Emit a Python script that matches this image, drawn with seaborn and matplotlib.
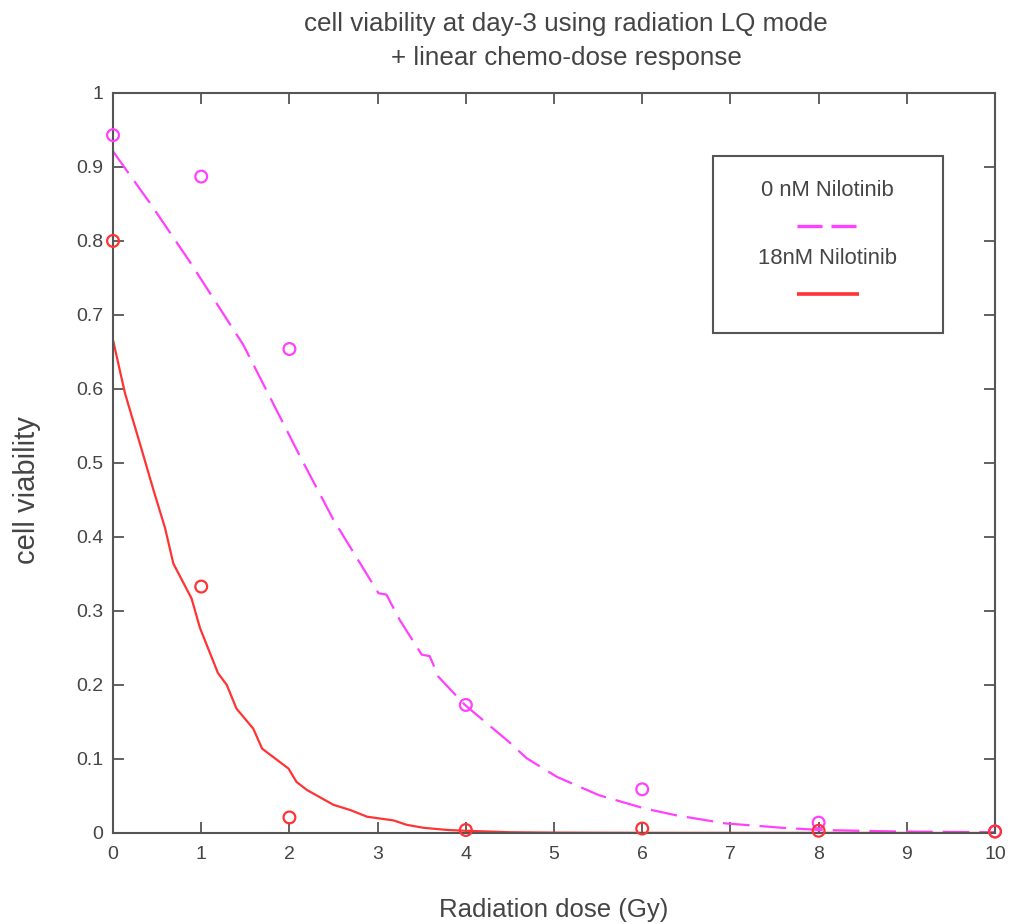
import numpy as np
import pandas as pd
import seaborn as sns
import matplotlib
matplotlib.use("Agg")
import matplotlib.pyplot as plt
from matplotlib.patches import Rectangle

# ---- data ----
dose_points = [0, 1, 2, 4, 6, 8, 10]
obs_0nM = [0.943, 0.887, 0.654, 0.173, 0.059, 0.014, 0.002]
obs_18nM = [0.800, 0.333, 0.021, 0.004, 0.006, 0.003, 0.002]

fit_0nM_x = [0, 0.42, 0.87, 1.48, 2.12, 2.50, 3.01, 3.10, 3.25, 3.50, 3.59, 3.69,
             3.99, 4.49, 4.69, 5.03, 5.51, 6.03, 6.38, 6.94, 7.59, 8.03, 8.9, 10]
fit_0nM_y = [0.921, 0.851, 0.772, 0.659, 0.509, 0.423, 0.324, 0.322, 0.288, 0.241,
             0.239, 0.211, 0.173, 0.123, 0.101, 0.076, 0.051, 0.033, 0.024, 0.013,
             0.007, 0.004, 0.002, 0.001]

fit_18nM_x = [0, 0.136, 0.325, 0.457, 0.59, 0.684, 0.89, 0.986, 1.19, 1.29, 1.40,
              1.59, 1.69, 1.99, 2.08, 2.20, 2.50, 2.69, 2.88, 3.18, 3.33, 3.52,
              3.80, 4.0, 4.5, 5.0, 6.0, 8.0, 10.0]
fit_18nM_y = [0.666, 0.594, 0.518, 0.464, 0.412, 0.364, 0.317, 0.277, 0.216, 0.200,
              0.168, 0.141, 0.114, 0.087, 0.069, 0.058, 0.038, 0.031, 0.022, 0.017,
              0.011, 0.007, 0.004, 0.003, 0.001, 0.0005, 0.0002, 0.0001, 0.0]

labels = ["0 nM Nilotinib", "18nM Nilotinib"]
title = "cell viability at day-3 using radiation LQ mode\n+ linear chemo-dose response"
xlabel = "Radiation dose (Gy)"
ylabel = "cell viability"

MAG = "#ff40ff"
RED = "#ff3333"
TXT = "#444444"

sns.set_style("white")
plt.rcParams['font.family'] = ['Liberation Sans', 'DejaVu Sans']

fig = plt.figure(figsize=(10.11, 9.24), dpi=100)
ax = fig.add_axes([0.1118, 0.0985, 0.8724, 0.8009])

sns.lineplot(x=fit_0nM_x, y=fit_0nM_y, color=MAG, lw=1.6, ax=ax, sort=False)
sns.lineplot(x=fit_18nM_x, y=fit_18nM_y, color=RED, lw=1.6, ax=ax, sort=False)
ax.lines[0].set_dashes([12, 4.5])

sns.scatterplot(x=dose_points, y=obs_0nM, ax=ax, marker='o', s=72,
                facecolor='none', edgecolor=MAG, linewidth=1.6, zorder=3, clip_on=False)
sns.scatterplot(x=dose_points, y=obs_18nM, ax=ax, marker='o', s=72,
                facecolor='none', edgecolor=RED, linewidth=1.6, zorder=3, clip_on=False)

ax.set_xlim(0, 10)
ax.set_ylim(0, 1)
ax.set_xticks(range(0, 11))
ax.set_yticks(np.round(np.arange(0, 1.01, 0.1), 1))
ax.set_yticklabels(["0"] + [f"{v:.1f}" for v in np.arange(0.1, 0.95, 0.1)] + ["1"])

for s in ax.spines.values():
    s.set_visible(True)
    s.set_color("#555555")
    s.set_linewidth(1.5)
ax.tick_params(direction='in', length=8, width=1.3, color="#555555",
               top=True, right=True, bottom=True, left=True,
               labelsize=14, labelcolor=TXT)
ax.tick_params(axis='x', pad=9.4)
ax.tick_params(axis='y', pad=7.2)

ax.set_title(title, fontsize=18.7, color=TXT, linespacing=1.5, y=1.0378, pad=0)
ax.title.set_x(0.5136)

ax.set_xlabel(xlabel, fontsize=18.5, color=TXT)
ax.xaxis.set_label_coords(0.5, -0.1135)
ax.xaxis.label.set_va('baseline')

ax.set_ylabel(ylabel, fontsize=21, color=TXT)
ax.yaxis.set_label_coords(-0.0975, 0.4635)
ax.yaxis.label.set_va('center')

# legend box (text above line sample, as in the reference)
tr = ax.transAxes
ax.add_patch(Rectangle((0.680, 0.676), 0.2605, 0.239, transform=tr, fill=False,
                       edgecolor="#555555", linewidth=1.5, zorder=5))
ax.text(0.8103, 0.8676, labels[0], transform=tr, ha='center', va='center',
        fontsize=15.8, color=TXT, zorder=6)
ax.text(0.8103, 0.7757, labels[1], transform=tr, ha='center', va='center',
        fontsize=15.8, color=TXT, zorder=6)
l1, = ax.plot([0.7752, 0.8461], [0.8203, 0.8203], transform=tr, color=MAG,
              lw=2.4, zorder=6, solid_capstyle='butt')
l1.set_dashes([7.5, 2.7])
ax.plot([0.7752, 0.8461], [0.7284, 0.7284], transform=tr, color=RED, lw=2.6,
        zorder=6, solid_capstyle='butt')

fig.savefig("out.png", dpi=100)
